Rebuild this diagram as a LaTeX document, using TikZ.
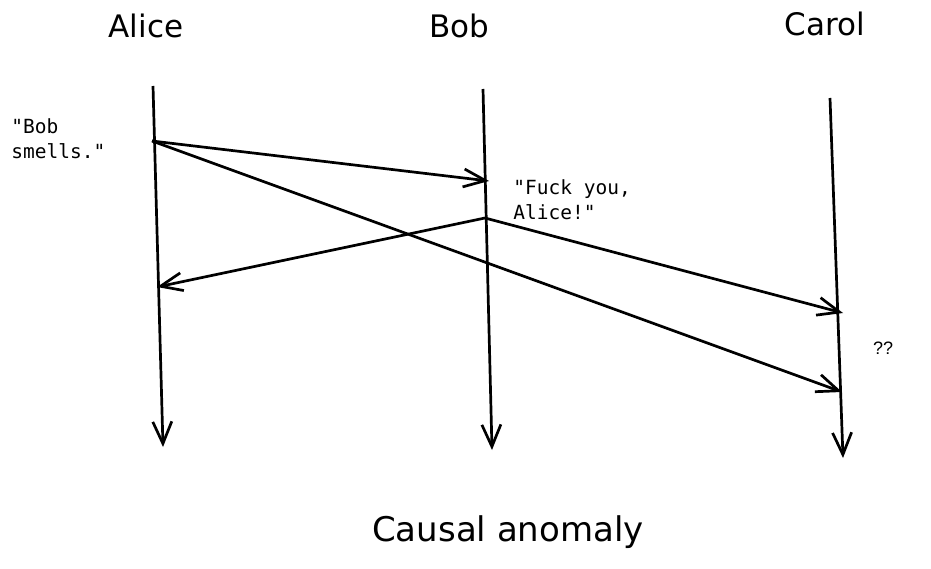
\documentclass[tikz,border=0pt]{standalone}
\usepackage{fontspec}
\setmainfont{DejaVu Sans}
\newfontfamily\monofont{DejaVu Sans Mono}
\newfontfamily\markfont{Liberation Sans}
\usetikzlibrary{arrows.meta}

\begin{document}
\begin{tikzpicture}[x=1pt,y=-1pt,line width=2.7pt,
    lifeline/.style={-{Straight Barb[length=22pt,width=19pt]}},
    msg/.style={-{Straight Barb[length=22pt,width=18pt]}},
    name node/.style={font=\fontsize{31}{38}\selectfont},
    note node/.style={font=\monofont\fontsize{19.5}{25.5}\selectfont,align=left,anchor=north west,inner sep=0pt}]
    \useasboundingbox (0,0) rectangle (931,569);

    % participants
    \node[name node] at (146, 26) (alice) {Alice};
    \node[name node] at (459, 26) (bob) {Bob};
    \node[name node] at (825, 24) (carol) {Carol};

    % lifelines
    \coordinate (aTop) at (153, 86);
    \coordinate (aEnd) at (163, 447);
    \coordinate (bTop) at (483, 89);
    \coordinate (bEnd) at (492, 450);
    \coordinate (cTop) at (830, 98);
    \coordinate (cEnd) at (843, 458);

    % events
    \coordinate (aSend) at (152, 141);
    \coordinate (aRecv) at (157, 287);
    \coordinate (bSend) at (485, 218);
    \coordinate (bRecv) at (489, 181);
    \coordinate (cRecv1) at (843, 313);
    \coordinate (cRecv2) at (842, 392);

    \path[lifeline] (aTop) edge (aEnd);
    \path[lifeline] (bTop) edge (bEnd);
    \path[lifeline] (cTop) edge (cEnd);

    \path[msg] (aSend) edge (bRecv);
    \path[msg] (aSend) edge (cRecv2);
    \path[msg] (bSend) edge (aRecv);
    \path[msg] (bSend) edge (cRecv1);

    % notes
    \node[note node] at (10, 117) (smells) {"Bob\\smells."};
    \node[note node] at (512, 178) (reply) {"Fuck you,\\Alice!"};
    \node[font=\markfont\fontsize{18}{22}\selectfont] at (883, 348) (confused) {??};

    \node[font=\fontsize{34}{40}\selectfont] at (508, 532) (caption) {Causal anomaly};
\end{tikzpicture}
\end{document}
